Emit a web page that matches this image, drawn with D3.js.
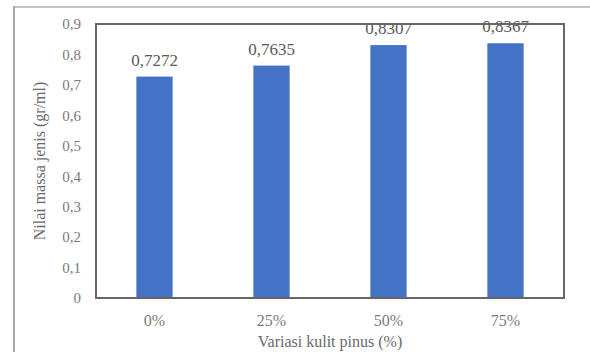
<!DOCTYPE html>
<html>
<head>
<meta charset="utf-8">
<script src="https://cdn.jsdelivr.net/npm/d3@7"></script>
<style>
  html, body { margin: 0; padding: 0; background: #fff; }
  svg { display: block; }
  text { font-family: "Liberation Serif", "Times New Roman", serif; }
</style>
</head>
<body>
<svg id="chart" width="590" height="352"></svg>
<script>
// Density values per pine-bark variation
const categories = ["0%", "25%", "50%", "75%"];
const values = [0.7272, 0.7635, 0.8307, 0.8367];
const valueLabels = ["0,7272", "0,7635", "0,8307", "0,8367"];
const yTicks = [0, 0.1, 0.2, 0.3, 0.4, 0.5, 0.6, 0.7, 0.8, 0.9];
const yTickLabels = ["0", "0,1", "0,2", "0,3", "0,4", "0,5", "0,6", "0,7", "0,8", "0,9"];
const xTitle = "Variasi kulit pinus (%)";
const yTitle = "Nilai massa jenis (gr/ml)";

const svg = d3.select("#chart");
const W = 590, H = 352;
const plot = { left: 96, right: 564, top: 24, bottom: 298 };

// Outer chart frame (only the visible top and left edges)
svg.append("line").attr("x1", 14).attr("x2", W).attr("y1", 7).attr("y2", 7)
  .attr("stroke", "#c4c4c4").attr("stroke-width", 2);
svg.append("line").attr("x1", 14).attr("x2", 14).attr("y1", 6).attr("y2", H)
  .attr("stroke", "#a8a8a8").attr("stroke-width", 2);

const x = d3.scaleBand().domain(categories).range([plot.left, plot.right]).paddingInner(0.69).paddingOuter(0.345);
const y = d3.scaleLinear().domain([0, 0.9]).range([plot.bottom, plot.top]);

// Bars
svg.append("g").selectAll("rect").data(values).join("rect")
  .attr("x", (d, i) => x(categories[i]))
  .attr("width", x.bandwidth())
  .attr("y", d => y(d))
  .attr("height", d => y(0) - y(d))
  .attr("fill", "#4472c4");

// Value labels
svg.append("g").selectAll("text").data(values).join("text")
  .attr("x", (d, i) => x(categories[i]) + x.bandwidth() / 2)
  .attr("y", d => y(d) - 11)
  .attr("text-anchor", "middle")
  .attr("font-size", 17)
  .attr("fill", "#5a5a5a")
  .text((d, i) => valueLabels[i]);

// Plot area border
svg.append("rect")
  .attr("x", plot.left).attr("y", plot.top)
  .attr("width", plot.right - plot.left).attr("height", plot.bottom - plot.top)
  .attr("fill", "none").attr("stroke", "#666").attr("stroke-width", 2);

// Y axis
const yAxis = d3.axisLeft(y).tickValues(yTicks).tickSize(0).tickPadding(15)
  .tickFormat((d, i) => yTickLabels[i]);
const gy = svg.append("g").attr("transform", `translate(${plot.left},0)`).call(yAxis);
gy.select(".domain").remove();
gy.selectAll("text").attr("font-size", 15).attr("fill", "#7a7a7a")
  .attr("font-family", "Liberation Serif, serif");

// X axis
const xAxis = d3.axisBottom(x).tickSize(0).tickPadding(17);
const gx = svg.append("g").attr("transform", `translate(0,${plot.bottom})`).call(xAxis);
gx.select(".domain").remove();
gx.selectAll("text").attr("font-size", 16).attr("fill", "#7a7a7a")
  .attr("font-family", "Liberation Serif, serif");

// Axis titles
svg.append("text")
  .attr("x", (plot.left + plot.right) / 2).attr("y", 347)
  .attr("text-anchor", "middle").attr("font-size", 16).attr("fill", "#6a6a6a")
  .text(xTitle);
svg.append("text")
  .attr("transform", `translate(45,${(plot.top + plot.bottom) / 2}) rotate(-90)`)
  .attr("text-anchor", "middle").attr("font-size", 16).attr("fill", "#6a6a6a")
  .text(yTitle);
</script>
</body>
</html>
